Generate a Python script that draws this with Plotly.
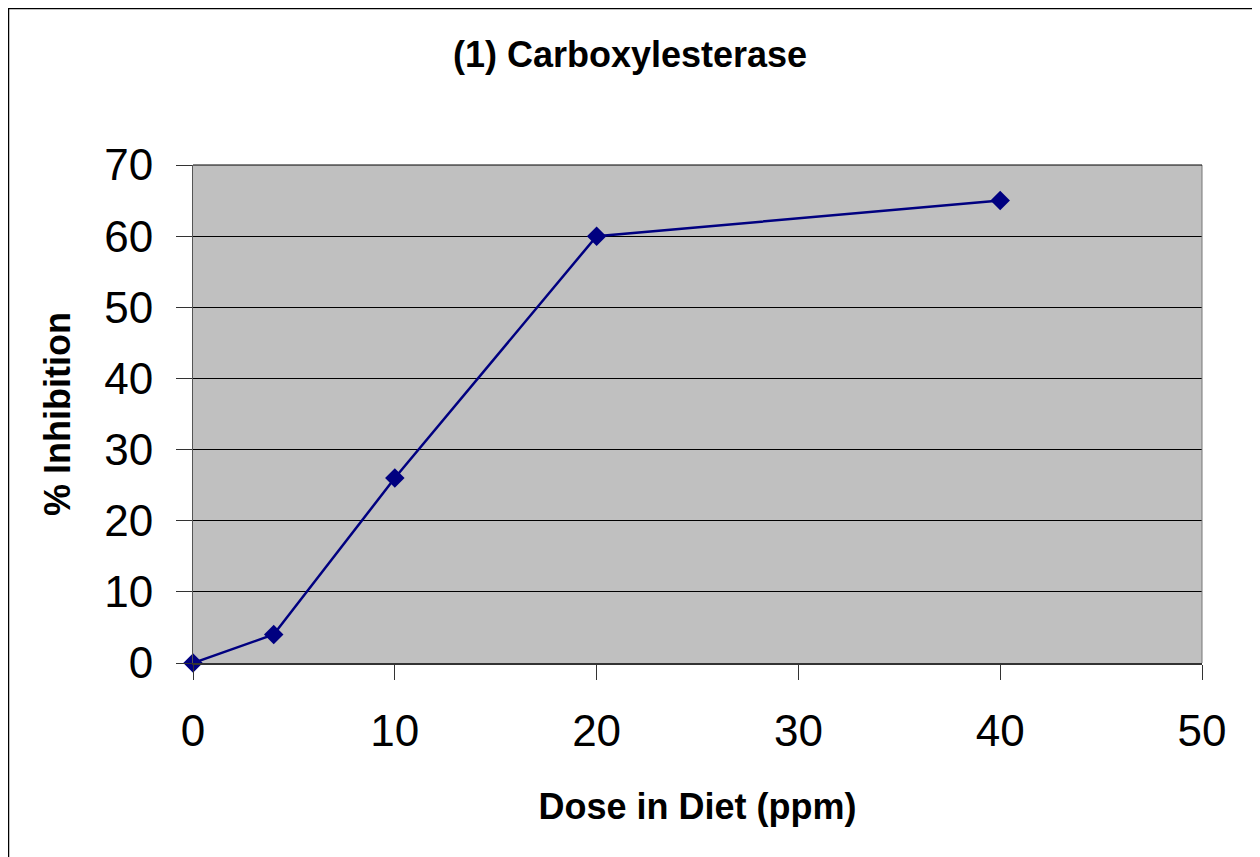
import plotly.graph_objects as go

dose = [0, 4, 10, 20, 40]
inhibition = [0, 4, 26, 60, 65]
x_ticks = [0, 10, 20, 30, 40, 50]
y_ticks = [0, 10, 20, 30, 40, 50, 60, 70]

W, H = 1252, 849
L, T, PW, PH = 185, 157, 1009, 498

fig = go.Figure()
fig.add_trace(go.Scatter(
    x=dose, y=inhibition, mode="lines+markers",
    line=dict(color="#000080", width=2.5),
    marker=dict(symbol="diamond", size=15, color="#000080"),
    cliponaxis=False, showlegend=False,
))

fig.update_layout(
    width=W, height=H,
    margin=dict(l=L, r=W - L - PW, t=T, b=H - T - PH),
    paper_bgcolor="white",
    plot_bgcolor="#C0C0C0",
    font=dict(family="Arial, Liberation Sans, sans-serif", color="black"),
    title=dict(text="<b>(1) Carboxylesterase</b>", x=(630 - 8 - L) / PW, xref="paper", xanchor="center",
               y=1 - (54 - 8) / H, yanchor="middle", font=dict(size=36)),
    shapes=[dict(type="rect", xref="paper", yref="paper", x0=(0.5 - L) / PW, x1=(1249 - L) / PW,
                 y0=-(H - T - PH + 20) / PH, y1=1 + (T - 0.5) / PH,
                 line=dict(color="black", width=1.5), layer="below")],
)
fig.update_xaxes(
    range=[0, 50], tickvals=x_ticks, showgrid=False, zeroline=False,
    showline=True, linecolor="#333", linewidth=2, mirror=False,
    ticks="outside", ticklen=15, tickcolor="#333", tickwidth=1, ticklabelstandoff=13,
    tickfont=dict(size=44), title=dict(text="<b>Dose in Diet (ppm)</b>", font=dict(size=36), standoff=40),
)
fig.update_yaxes(
    range=[0, 70], tickvals=y_ticks, showgrid=True, gridcolor="black", gridwidth=1,
    zeroline=False, showline=True, linecolor="#555", linewidth=1,
    ticks="outside", ticklen=16, tickcolor="#333", tickwidth=1, ticklabelstandoff=14,
    tickfont=dict(size=44), title=dict(text="<b>% Inhibition</b>", font=dict(size=36), standoff=22),
)
fig.add_shape(type="line", xref="paper", yref="paper", x0=1, x1=1, y0=0, y1=1,
              line=dict(color="#777", width=1))
fig.add_shape(type="line", xref="paper", yref="paper", x0=0, x1=1, y0=1, y1=1,
              line=dict(color="black", width=1))
fig.write_html("out.html")
